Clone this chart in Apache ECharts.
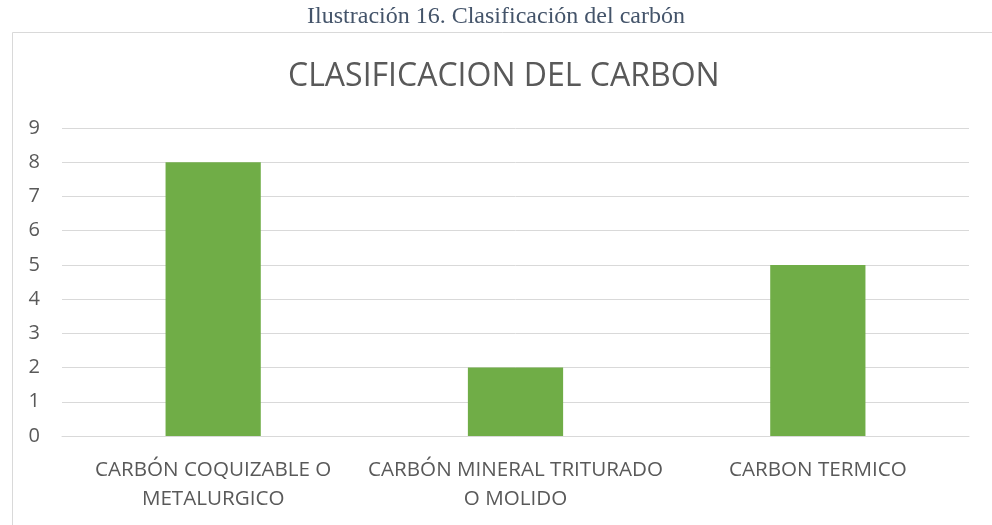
<!DOCTYPE html>
<html>
<head>
<meta charset="utf-8">
<script src="https://cdn.jsdelivr.net/npm/echarts@6/dist/echarts.min.js"></script>
<style>
  html, body { margin: 0; padding: 0; background: #fff; }
  #chart { width: 992px; height: 525px; }
</style>
</head>
<body>
<div id="chart"></div>
<script>
// datos del gráfico
const categories = [
  'CARBÓN COQUIZABLE O\nMETALURGICO',
  'CARBÓN MINERAL TRITURADO\nO MOLIDO',
  'CARBON TERMICO'
];
const values = [8, 2, 5];
const yTicks = [0, 9, 1]; // min, max, intervalo

const chart = echarts.init(document.getElementById('chart'));

const option = {
  backgroundColor: '#fff',
  animation: false,
  title: [
    {
      text: 'Ilustración 16. Clasificación del carbón',
      left: 'center',
      top: 0,
      textStyle: {
        fontFamily: 'Liberation Serif',
        fontSize: 24,
        fontWeight: 'normal',
        color: '#44546A'
      }
    },
    {
      text: 'CLASIFICACION DEL CARBON',
      left: 283,
      top: 56,
      textStyle: {
        fontFamily: 'Open Sans',
        fontSize: 32,
        fontWeight: 'normal',
        color: '#595959'
      }
    }
  ],
  graphic: [
    {
      type: 'rect',
      left: 10,
      top: 30,
      shape: { width: 1000, height: 520 },
      style: { fill: 'none', stroke: '#d9d9d9', lineWidth: 1 },
      silent: true,
      z: -1
    }
  ],
  grid: {
    left: 62,
    right: 23,
    top: 128,
    bottom: 89,
    containLabel: false
  },
  xAxis: {
    type: 'category',
    data: categories,
    axisLine: { show: true, lineStyle: { color: '#d9d9d9', width: 1 } },
    axisTick: { show: false },
    axisLabel: {
      interval: 0,
      margin: 20,
      fontFamily: 'Open Sans',
      fontSize: 20.6,
      lineHeight: 29,
      color: '#595959'
    }
  },
  yAxis: {
    type: 'value',
    min: yTicks[0],
    max: yTicks[1],
    interval: yTicks[2],
    axisLine: { show: false },
    axisTick: { show: false },
    splitLine: { lineStyle: { color: '#d9d9d9', width: 1 } },
    axisLabel: {
      margin: 22,
      fontFamily: 'Open Sans',
      fontSize: 20,
      color: '#595959'
    }
  },
  series: [
    {
      type: 'bar',
      data: values,
      barWidth: '31.5%',
      itemStyle: { color: '#70AD47' }
    }
  ]
};

chart.setOption(option);
</script>
</body>
</html>
